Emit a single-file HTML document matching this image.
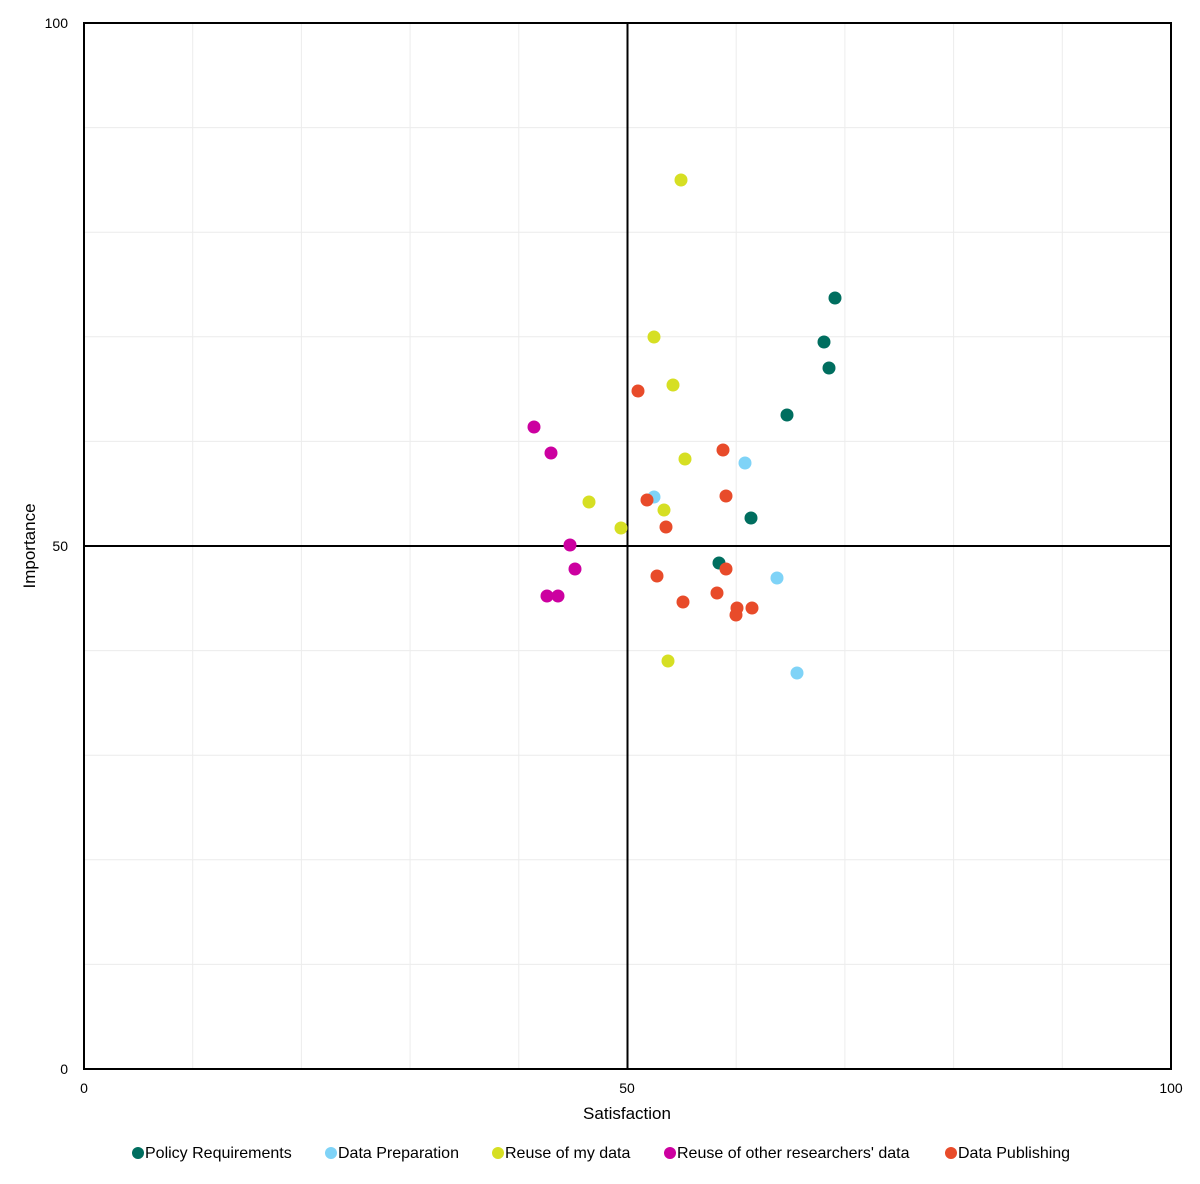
<!DOCTYPE html>
<html><head><meta charset="utf-8"><style>
body{margin:0;background:#fff;}
svg text{font-family:"Liberation Sans",Arial,sans-serif;fill:#000;}
</style></head><body>
<svg width="1200" height="1179" xmlns="http://www.w3.org/2000/svg">
<rect width="1200" height="1179" fill="#fff"/>
<g stroke="#ececec" stroke-width="1">
<line x1="192.7" y1="23" x2="192.7" y2="1069"/><line x1="301.4" y1="23" x2="301.4" y2="1069"/>
<line x1="410.1" y1="23" x2="410.1" y2="1069"/><line x1="518.8" y1="23" x2="518.8" y2="1069"/>
<line x1="736.2" y1="23" x2="736.2" y2="1069"/><line x1="844.9" y1="23" x2="844.9" y2="1069"/>
<line x1="953.6" y1="23" x2="953.6" y2="1069"/><line x1="1062.3" y1="23" x2="1062.3" y2="1069"/>
<line x1="84" y1="127.6" x2="1171" y2="127.6"/><line x1="84" y1="232.2" x2="1171" y2="232.2"/>
<line x1="84" y1="336.8" x2="1171" y2="336.8"/><line x1="84" y1="441.4" x2="1171" y2="441.4"/>
<line x1="84" y1="650.6" x2="1171" y2="650.6"/><line x1="84" y1="755.2" x2="1171" y2="755.2"/>
<line x1="84" y1="859.8" x2="1171" y2="859.8"/><line x1="84" y1="964.4" x2="1171" y2="964.4"/>
</g>
<rect x="84" y="23" width="1087" height="1046" fill="none" stroke="#000" stroke-width="2"/>
<line x1="627.5" y1="23" x2="627.5" y2="1069" stroke="#000" stroke-width="2"/>
<line x1="84" y1="546" x2="1171" y2="546" stroke="#000" stroke-width="2"/>
<g font-size="14">
<text x="68" y="28" text-anchor="end">100</text>
<text x="68" y="551" text-anchor="end">50</text>
<text x="68" y="1074" text-anchor="end">0</text>
<text x="84" y="1093" text-anchor="middle">0</text>
<text x="627" y="1093" text-anchor="middle">50</text>
<text x="1171" y="1093" text-anchor="middle">100</text>
</g>
<text x="627" y="1119" font-size="17" text-anchor="middle">Satisfaction</text>
<text x="35" y="546" font-size="17" text-anchor="middle" transform="rotate(-90 35 546)">Importance</text>
<g fill="#006e5f">
<circle cx="835" cy="298" r="6.5"/><circle cx="824" cy="342" r="6.5"/><circle cx="829" cy="368" r="6.5"/>
<circle cx="787" cy="415" r="6.5"/><circle cx="751" cy="518" r="6.5"/><circle cx="719" cy="563" r="6.5"/>
</g>
<g fill="#7fd3f7">
<circle cx="745" cy="463" r="6.5"/><circle cx="654" cy="497" r="6.5"/><circle cx="777" cy="578" r="6.5"/><circle cx="797" cy="673" r="6.5"/>
</g>
<g fill="#d6df23">
<circle cx="681" cy="180" r="6.5"/><circle cx="654" cy="337" r="6.5"/><circle cx="673" cy="385" r="6.5"/>
<circle cx="685" cy="459" r="6.5"/><circle cx="589" cy="502" r="6.5"/><circle cx="664" cy="510" r="6.5"/>
<circle cx="621" cy="528" r="6.5"/><circle cx="668" cy="661" r="6.5"/>
</g>
<g fill="#cc00a0">
<circle cx="534" cy="427" r="6.5"/><circle cx="551" cy="453" r="6.5"/><circle cx="570" cy="545" r="6.5"/>
<circle cx="575" cy="569" r="6.5"/><circle cx="547" cy="596" r="6.5"/><circle cx="558" cy="596" r="6.5"/>
</g>
<g fill="#e84b2a">
<circle cx="638" cy="391" r="6.5"/><circle cx="723" cy="450" r="6.5"/><circle cx="726" cy="496" r="6.5"/>
<circle cx="647" cy="500" r="6.5"/><circle cx="666" cy="527" r="6.5"/><circle cx="657" cy="576" r="6.5"/>
<circle cx="726" cy="569" r="6.5"/><circle cx="683" cy="602" r="6.5"/><circle cx="717" cy="593" r="6.5"/>
<circle cx="737" cy="608" r="6.5"/><circle cx="736" cy="615" r="6.5"/><circle cx="752" cy="608" r="6.5"/>
</g>
<g font-size="16">
<circle cx="138" cy="1153" r="6" fill="#006e5f"/><text x="145" y="1158">Policy Requirements</text>
<circle cx="331" cy="1153" r="6" fill="#7fd3f7"/><text x="338" y="1158">Data Preparation</text>
<circle cx="498" cy="1153" r="6" fill="#d6df23"/><text x="505" y="1158">Reuse of my data</text>
<circle cx="670" cy="1153" r="6" fill="#cc00a0"/><text x="677" y="1158">Reuse of other researchers' data</text>
<circle cx="951" cy="1153" r="6" fill="#e84b2a"/><text x="958" y="1158">Data Publishing</text>
</g>
</svg>
</body></html>
